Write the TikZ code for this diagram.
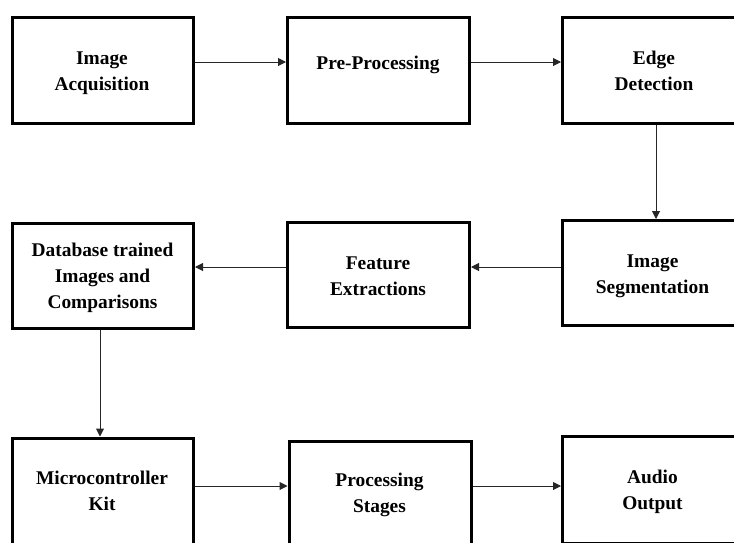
\documentclass[tikz,border=0pt]{standalone}
\usepackage{fontspec}
\setmainfont{Liberation Serif}
\usetikzlibrary{arrows.meta}
\begin{document}
\begin{tikzpicture}[x=1pt,y=-1pt,
  box/.style={draw=black, line width=3pt, inner sep=0pt, rectangle},
  lbl/.style={anchor=base, align=center, inner sep=0pt,
    font=\bfseries\fontsize{19.4}{26}\selectfont},
  arr/.style={draw=black!85, line width=1pt,
    -{Triangle[length=8pt,width=8pt]}}]
\useasboundingbox (0,0) rectangle (734,542);
\clip (0,0) rectangle (734,542);
% boxes
\node[box, minimum width=181pt, minimum height=105.5pt] (b1) at (103,70.25) {};
\node[box, minimum width=181.5pt, minimum height=105.5pt] (b2) at (378.25,70.25) {};
\node[box, minimum width=197.5pt, minimum height=105.5pt] (b3) at (661.25,70.25) {};
\node[box, minimum width=181pt, minimum height=104.5pt] (b4) at (103,275.75) {};
\node[box, minimum width=182pt, minimum height=105.4pt] (b5) at (378.5,275) {};
\node[box, minimum width=197.7pt, minimum height=105pt] (b6) at (661.15,273) {};
\node[box, minimum width=181pt, minimum height=162pt] (b7) at (103,519) {};
\node[box, minimum width=182pt, minimum height=159pt] (b8) at (380,520.5) {};
\node[box, minimum width=197.5pt, minimum height=106.8pt] (b9) at (661.25,490.1) {};
% labels (anchor = baseline of last line)
\node[lbl] (t1) at (102,90) {Image\\Acquisition};
\node[lbl] (t2) at (378,69.5) {Pre-Processing};
\node[lbl] (t3) at (654,90) {Edge\\Detection};
\node[lbl] (t4) at (102.5,308) {Database trained\\Images and\\Comparisons};
\node[lbl] (t5) at (378,295) {Feature\\Extractions};
\node[lbl] (t6) at (652.5,293) {Image\\Segmentation};
\node[lbl] (t7) at (102,510) {Microcontroller\\Kit};
\node[lbl] (t8) at (379.5,512) {Processing\\Stages};
\node[lbl] (t9) at (652.5,509) {Audio\\Output};
% connector guides
\coordinate (r1) at (0,62);
\coordinate (r2) at (0,267);
\coordinate (r3) at (0,486);
\coordinate (c1) at (656,0);
\coordinate (c2) at (100,0);
% connectors
\draw[arr] (b1.east|-r1) -- (b2.west|-r1);
\draw[arr] (b2.east|-r1) -- (b3.west|-r1);
\draw[arr] (b3.south-|c1) -- (b6.north-|c1);
\draw[arr] (b6.west|-r2) -- (b5.east|-r2);
\draw[arr] (b5.west|-r2) -- (b4.east|-r2);
\draw[arr] (b4.south-|c2) -- (b7.north-|c2);
\draw[arr] (b7.east|-r3) -- (b8.west|-r3);
\draw[arr] (b8.east|-r3) -- (b9.west|-r3);
\end{tikzpicture}
\end{document}
